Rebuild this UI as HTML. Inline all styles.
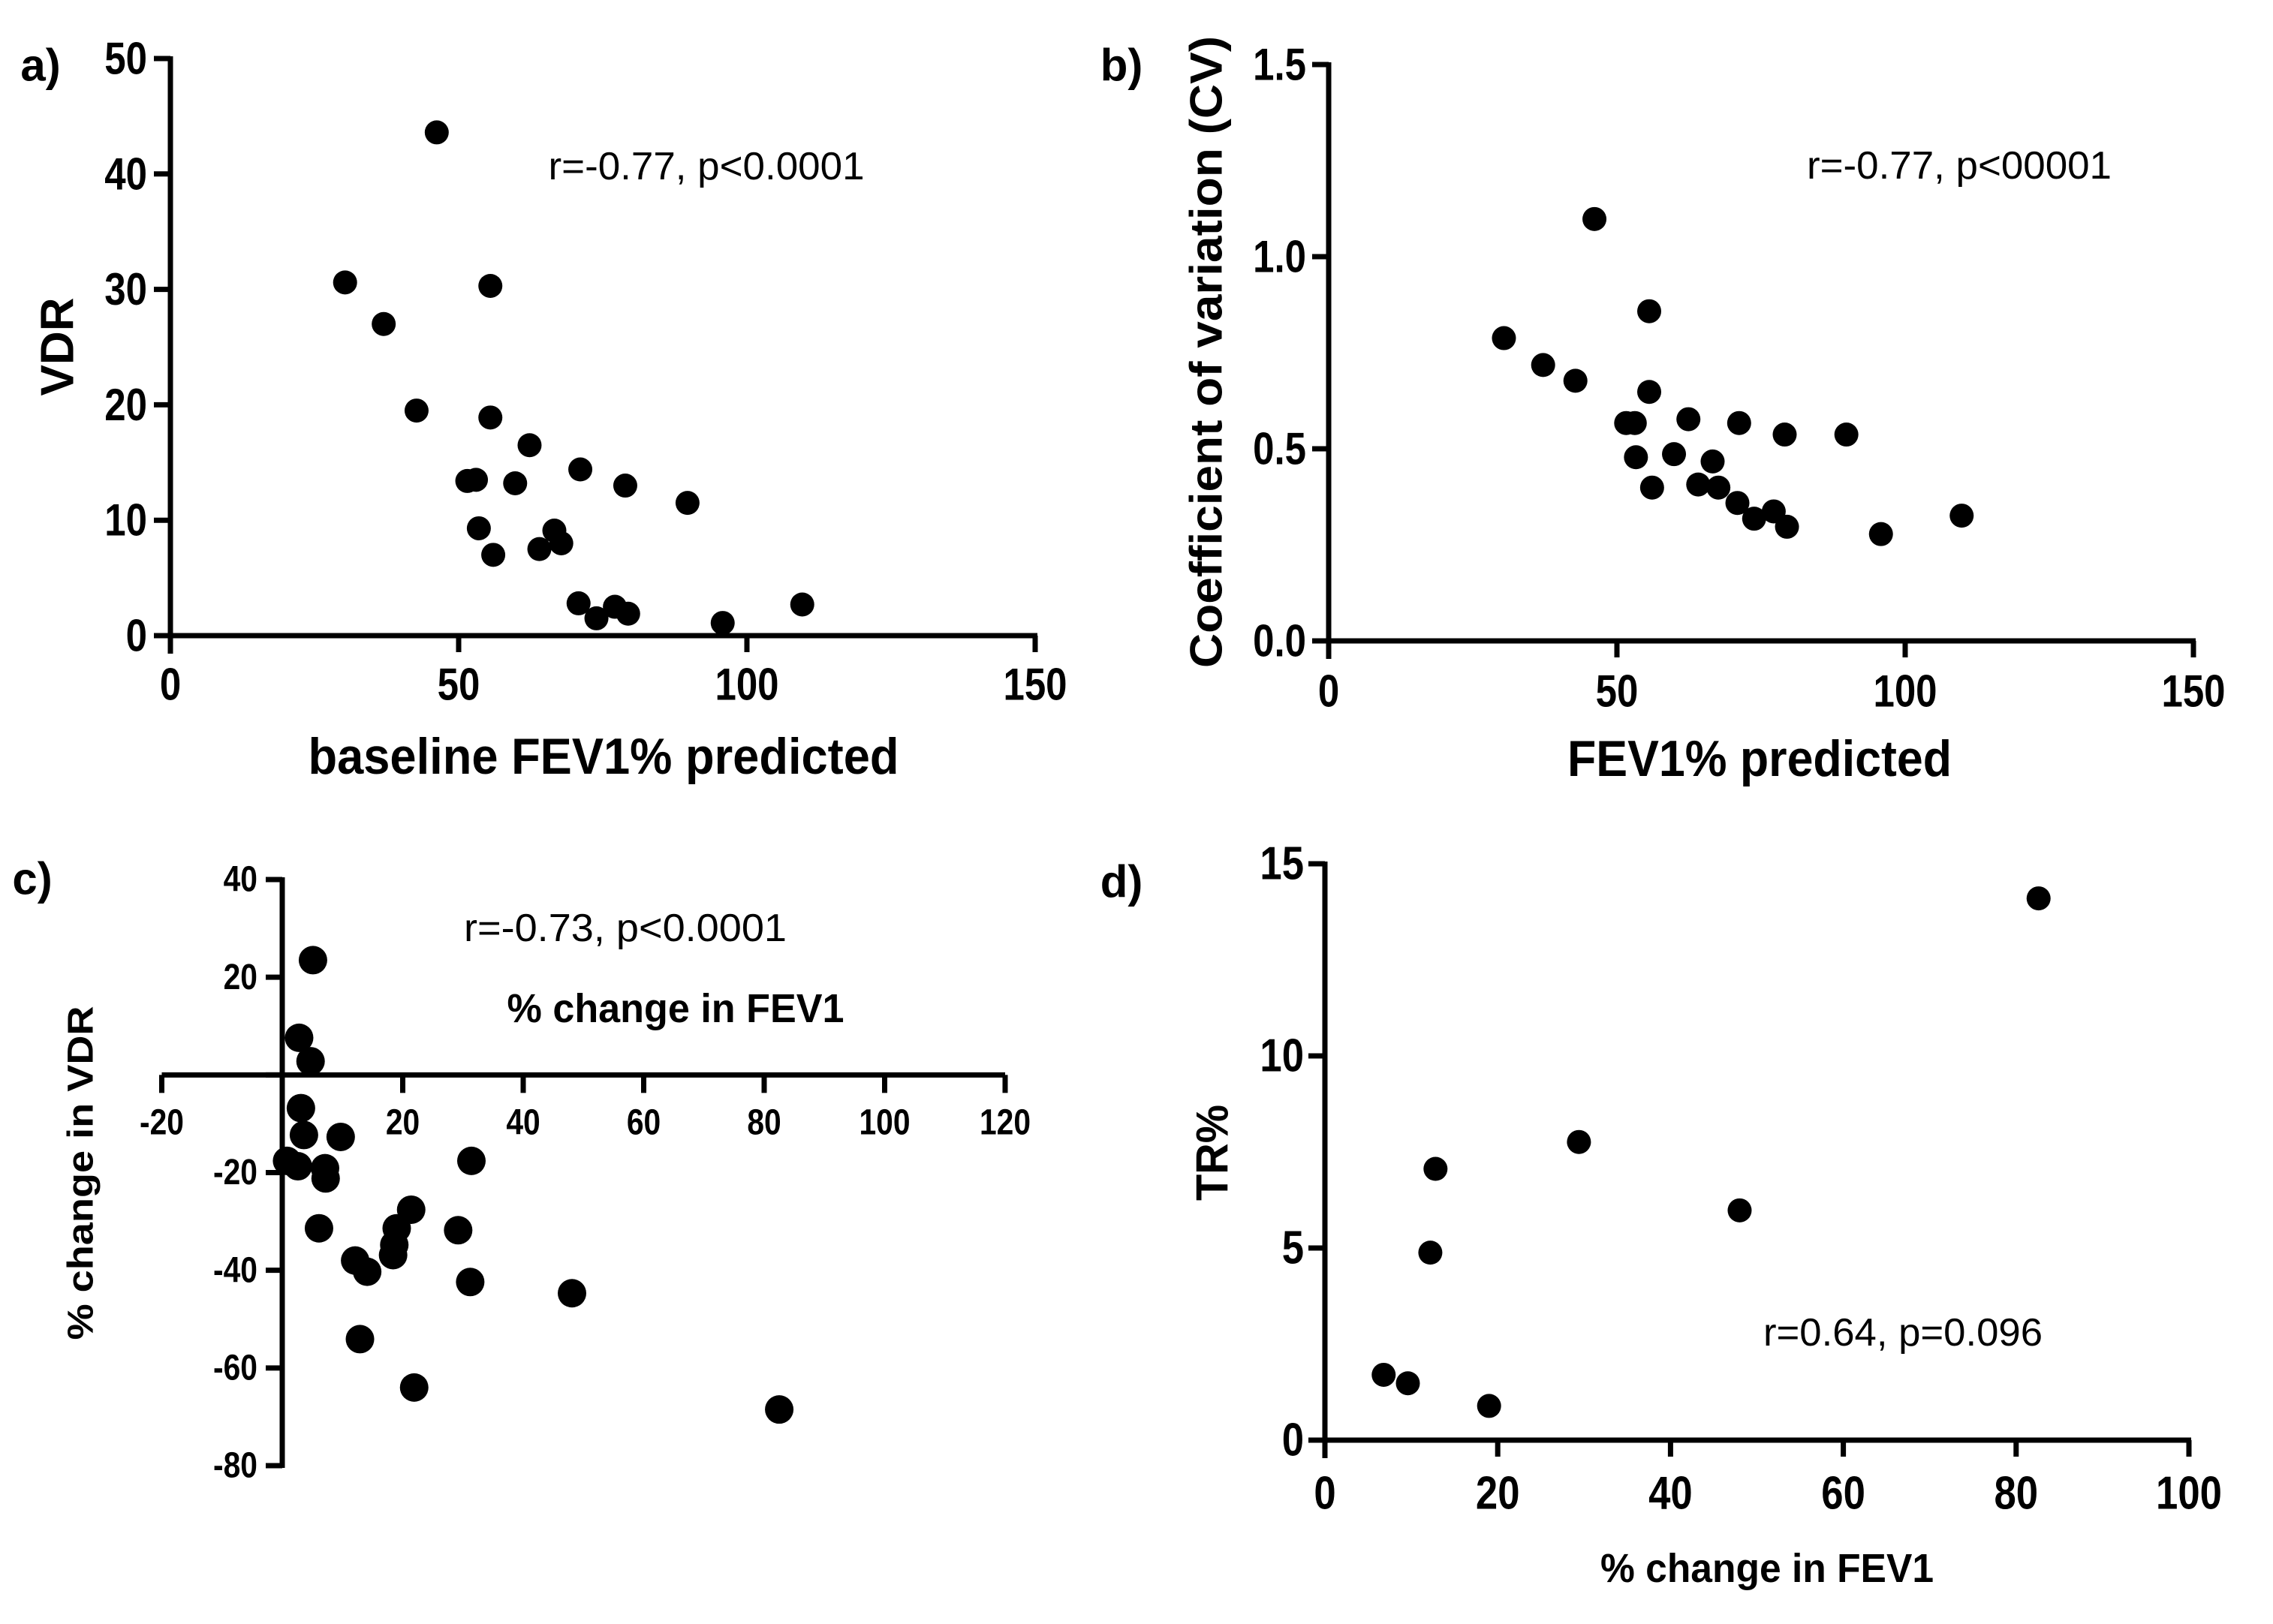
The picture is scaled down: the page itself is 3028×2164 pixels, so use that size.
<!DOCTYPE html>
<html><head><meta charset="utf-8"><style>
html,body{margin:0;padding:0;background:#fff}
svg{display:block}
</style></head><body>
<svg id="fig" width="3028" height="2164" viewBox="0 0 3028 2164" xmlns="http://www.w3.org/2000/svg"></svg>
<script>
// ---- data ----
const aX = [46.2,30.3,55.5,37.0,42.7,55.5,62.3,71.1,51.5,53.0,59.8,78.9,89.7,53.5,66.6,67.8,64.0,56.0,70.8,77.1,79.4,73.9,95.8,109.6];
const aY = [43.6,30.6,30.3,27.0,19.5,18.9,16.5,14.4,13.4,13.5,13.2,13.0,11.5,9.3,9.1,8.0,7.5,7.0,2.8,2.5,1.9,1.5,1.1,2.7];
const bX = [46.1,55.6,30.4,37.2,42.8,55.6,51.6,53.1,62.4,71.2,79.1,89.8,53.3,59.9,66.6,56.1,64.1,67.6,70.9,77.2,73.8,79.5,95.8,109.8];
const bY = [1.098,0.858,0.788,0.718,0.677,0.648,0.567,0.567,0.577,0.567,0.537,0.537,0.478,0.486,0.467,0.399,0.407,0.399,0.359,0.337,0.318,0.297,0.278,0.326];
const cX = [5.1,2.8,4.7,3.1,3.6,9.7,0.8,2.6,7.1,7.2,31.4,6.1,21.4,19.0,18.6,18.4,29.2,12.1,14.1,31.2,48.1,12.9,21.9,82.5];
const cY = [23.5,7.6,2.8,-6.8,-12.3,-12.7,-17.6,-18.7,-19.1,-21.2,-17.6,-31.4,-27.6,-31.4,-34.8,-36.9,-31.8,-38.0,-40.3,-42.4,-44.7,-54.1,-64.0,-68.5];
const dX = [82.6,29.4,12.8,48.0,12.2,6.8,9.6,19.0];
const dY = [14.1,7.76,7.06,5.98,4.88,1.70,1.48,0.89];
const aXTicks = [0,50,100,150];
const aYTicks = [0,10,20,30,40,50];
const bXTicks = [0,50,100,150];
const bYTicks = [0,0.5,1.0,1.5];
const bYTickLabels = ["0.0","0.5","1.0","1.5"];
const cXTicks = [-20,0,20,40,60,80,100,120];
const cXTickLabels = ["-20","","20","40","60","80","100","120"];
const cYTicks = [40,20,0,-20,-40,-60,-80];
const cYTickLabels = ["40","20","","-20","-40","-60","-80"];
const dXTicks = [0,20,40,60,80,100];
const dYTicks = [0,5,10,15];

const NS = "http://www.w3.org/2000/svg";
const svg = document.getElementById('fig');
function el(tag, attrs, parent){
  const e = document.createElementNS(NS, tag);
  for (const k in attrs) e.setAttribute(k, attrs[k]);
  (parent||svg).appendChild(e);
  return e;
}
function lin(d0,d1,p0,p1){ return v => p0 + (v-d0)/(d1-d0)*(p1-p0); }
function txt(x,y,s,size,weight,anchor,sx,rot,name,len){
  const g = el('g',{transform:`translate(${x},${y}) rotate(${rot||0}) scale(${sx||1},1)`});
  
  
  const t = el('text',{x:0,y:0,'font-family':'"Liberation Sans", Arial, sans-serif','font-size':size,'font-weight':weight,'text-anchor':anchor,'dominant-baseline':'central',fill:'#000'},g);
  if (len){ t.setAttribute('textLength', len); t.setAttribute('lengthAdjust','spacingAndGlyphs'); }
  
  
  t.textContent = s;
  return t;
}
function line(x1,y1,x2,y2,name){
  const l = el('line',{x1,y1,x2,y2,stroke:'#000','stroke-width':7});
  
  
}
function dots(xs,ys,sx,sy,r,name){
  for (let i=0;i<xs.length;i++){
    const c = el('circle',{cx:sx(xs[i]),cy:sy(ys[i]),r:r,fill:'#000'});
    
    
  }
}

// ---- panel a ----
{
  const sx = lin(0,150,227,1379), sy = lin(0,50,847,78);
  line(sx(0),sy(50)-3,sx(0),sy(0)+24,'a-y-axis');
  line(sx(0)-3,sy(0),sx(150)+3,sy(0),'a-x-axis');
  aYTicks.forEach(v=>{ line(sx(0)-22,sy(v),sx(0),sy(v),'a-y-tick'); txt(sx(0)-31,sy(v),String(v),60,'bold','end',0.85,0,'a-y-tick-label'); });
  aXTicks.forEach(v=>{ line(sx(v),sy(0),sx(v),sy(0)+22,'a-x-tick'); txt(sx(v),912,String(v),60,'bold','middle',0.85,0,'a-x-tick-label'); });
  dots(aX,aY,sx,sy,16,'a-point');
  txt(804,1008,'baseline FEV1% predicted',68,'bold','middle',1,0,'a-x-axis-title',787);
  txt(77,462,'VDR',62,'bold','middle',1,-90,'a-y-axis-title',131);
  txt(941,222,'r=-0.77, p<0.0001',52,'normal','middle',1,0,'a-correlation-text',421);
  txt(54,87,'a)',60,'bold','middle',1,0,'panel-a-label');
}
// ---- panel b ----
{
  const sx = lin(0,150,1770,2922), sy = lin(0,1.5,854,86);
  line(sx(0),sy(1.5)-3,sx(0),sy(0)+24,'b-y-axis');
  line(sx(0)-3,sy(0),sx(150)+3,sy(0),'b-x-axis');
  bYTicks.forEach((v,i)=>{ line(sx(0)-22,sy(v),sx(0),sy(v),'b-y-tick'); txt(1740,sy(v),bYTickLabels[i],60,'bold','end',0.85,0,'b-y-tick-label'); });
  bXTicks.forEach(v=>{ line(sx(v),sy(0),sx(v),sy(0)+22,'b-x-tick'); txt(sx(v),921,String(v),60,'bold','middle',0.85,0,'b-x-tick-label'); });
  dots(bX,bY,sx,sy,16,'b-point');
  txt(2344,1011,'FEV1% predicted',68,'bold','middle',1,0,'b-x-axis-title',512);
  txt(1607,469,'Coefficient of variation (CV)',60,'bold','middle',1,-90,'b-y-axis-title',842);
  txt(2610,221,'r=-0.77, p<00001',52,'normal','middle',1,0,'b-correlation-text',406);
  txt(1494,87,'b)',60,'bold','middle',1,0,'panel-b-label');
}
// ---- panel c ----
{
  const sx = lin(-20,120,215.5,1339), sy = lin(40,-80,1172,1953);
  line(sx(0),sy(40)-3,sx(0),sy(-80)+3,'c-y-axis');
  line(sx(-20),sy(0),sx(120),sy(0),'c-x-axis');
  cYTicks.forEach((v,i)=>{ line(sx(0)-22,sy(v),sx(0),sy(v),'c-y-tick'); if(cYTickLabels[i]) txt(sx(0)-33,sy(v),cYTickLabels[i],48,'bold','end',0.85,0,'c-y-tick-label'); });
  cXTicks.forEach((v,i)=>{ line(sx(v),sy(0),sx(v),sy(0)+24,'c-x-tick'); if(cXTickLabels[i]) txt(sx(v),1496,cXTickLabels[i],48,'bold','middle',0.85,0,'c-x-tick-label'); });
  dots(cX,cY,sx,sy,19,'c-point');
  txt(900,1344,'% change in FEV1',54,'bold','middle',1,0,'c-x-axis-title',449);
  txt(108,1563,'% change in VDR',48,'bold','middle',1,-90,'c-y-axis-title',445);
  txt(833,1237,'r=-0.73, p<0.0001',52,'normal','middle',1,0,'c-correlation-text',430);
  txt(43,1171,'c)',60,'bold','middle',1,0,'panel-c-label');
}
// ---- panel d ----
{
  const sx = lin(0,100,1765,2916), sy = lin(0,15,1919,1151);
  line(sx(0),sy(15)-3,sx(0),sy(0)+24,'d-y-axis');
  line(sx(0)-3,sy(0),sx(100)+3,sy(0),'d-x-axis');
  dYTicks.forEach(v=>{ line(sx(0)-22,sy(v),sx(0),sy(v),'d-y-tick'); txt(1737,sy(v),String(v),62,'bold','end',0.85,0,'d-y-tick-label'); });
  dXTicks.forEach(v=>{ line(sx(v),sy(0),sx(v),sy(0)+22,'d-x-tick'); txt(sx(v),1990,String(v),62,'bold','middle',0.85,0,'d-x-tick-label'); });
  dots(dX,dY,sx,sy,16,'d-point');
  txt(2354,2090,'% change in FEV1',54,'bold','middle',1,0,'d-x-axis-title',444);
  txt(1615,1536,'TR%',60,'bold','middle',1,-90,'d-y-axis-title',128);
  txt(2535,1776,'r=0.64, p=0.096',52,'normal','middle',1,0,'d-correlation-text',372);
  txt(1494,1175,'d)',60,'bold','middle',1,0,'panel-d-label');
}
</script>
</body></html>
